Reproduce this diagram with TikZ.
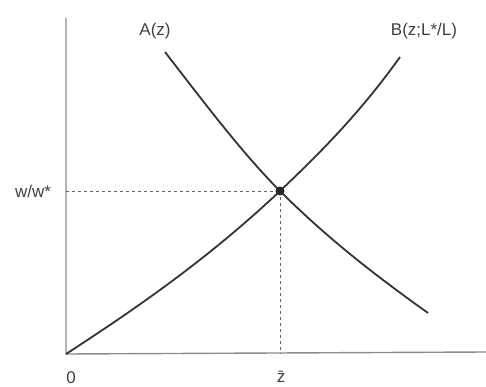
\documentclass[tikz,border=0pt]{standalone}
\usepackage{fontspec}
\setmainfont{Liberation Sans}
\begin{document}
\begin{tikzpicture}[x=1pt,y=-1pt,
  axis/.style={draw=black!45,line width=1.4pt},
  curve/.style={draw=black!80,line width=1.8pt},
  guide/.style={draw=black!60,line width=1pt,dash pattern=on 3pt off 3pt},
  lbl/.style={text=black!75,font=\fontsize{17}{19}\selectfont,inner sep=0pt}]
\useasboundingbox (0,0) rectangle (486,387);
\coordinate (O) at (66,354);
\coordinate (ytop) at (66,18);
\coordinate (xend) at (486,352);
\coordinate (E) at (280,191);
\coordinate (Ea) at (66,191);
\coordinate (Ez) at (280,354);
\coordinate (As) at (165,52);
\coordinate (Ae) at (428,313);
\coordinate (Be) at (400,57);
\draw[axis] (ytop) -- (O) -- (xend);
\draw[guide] (Ea) -- (E);
\draw[guide] (E) -- (Ez);
\draw[curve] (As) .. controls (203,101) and (242,153) .. (E)
  .. controls (329,240) and (379,278) .. (Ae);
\draw[curve] (O) .. controls (137,308) and (209,258) .. (E)
  .. controls (320,153) and (360,113) .. (Be);
\fill[black!85] (E) circle (4.5);
\node[lbl] (la) at (155,31) {A(z)};
\node[lbl] (lb) at (424,31) {B(z;L*/L)};
\node[lbl] (lw) at (33,191) {w/w*};
\node[lbl] (l0) at (71,378) {0};
\node[lbl] (lz) at (281,377) {z̄};
\end{tikzpicture}
\end{document}
